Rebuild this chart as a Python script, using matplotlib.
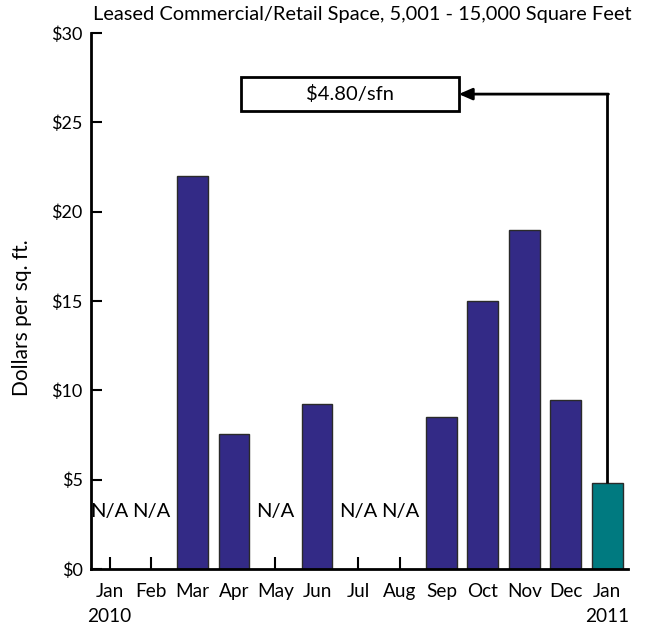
import matplotlib
matplotlib.use("Agg")
import matplotlib.pyplot as plt
from matplotlib.patches import Rectangle

plt.rcParams['font.family'] = ['Lato', 'DejaVu Sans']

months = ["Jan\n2010", "Feb", "Mar", "Apr", "May", "Jun", "Jul", "Aug",
          "Sep", "Oct", "Nov", "Dec", "Jan\n2011"]
values = [None, None, 22.0, 7.55, None, 9.23, None, None, 8.5, 15.0, 19.0, 9.47, 4.8]
colors = ["#332A86"] * 12 + ["#007A80"]
yticks = [0, 5, 10, 15, 20, 25, 30]
ytick_labels = ["$0", "$5", "$10", "$15", "$20", "$25", "$30"]
title = "Leased Commercial/Retail Space, 5,001 - 15,000 Square Feet"
ylabel = "Dollars per sq. ft."
annot_text = "$4.80/sfn"

fig = plt.figure(figsize=(6.5, 6.31), dpi=100)
ax = fig.add_axes([0.14, 0.0983, 0.826, 0.8494])

x = list(range(len(months)))
for i, v in enumerate(values):
    if v is None:
        ax.text(i, 3.2, "N/A", ha="center", va="center", fontsize=14.5)
    else:
        ax.bar(i, v, width=0.74, color=colors[i], edgecolor="#2a2a2a",
               linewidth=1.0, zorder=2)

ax.set_xlim(-0.45, 12.5)
ax.set_ylim(0, 30)
ax.set_yticks(yticks)
ax.set_yticklabels(ytick_labels, fontsize=13)
ax.set_xticks(x)
ax.set_xticklabels(months, fontsize=13.7, linespacing=1.6)
ax.tick_params(axis="y", direction="in", length=8, width=1.5, pad=6)
ax.tick_params(axis="x", direction="in", length=9, width=1.5, pad=10)
for s in ["top", "right"]:
    ax.spines[s].set_visible(False)
for s in ["left", "bottom"]:
    ax.spines[s].set_linewidth(2)

fig.text(0.034, 1 - 318 / 631, ylabel, rotation=90, ha="center", va="center",
         fontsize=15)

# annotation box + arrow
box_x0, box_x1, box_y0, box_y1 = 3.16, 8.42, 25.63, 27.53
ymid = (box_y0 + box_y1) / 2
ax.add_patch(Rectangle((box_x0, box_y0), box_x1 - box_x0, box_y1 - box_y0,
                       facecolor="white", edgecolor="black", linewidth=2, zorder=3))
ax.text((box_x0 + box_x1) / 2, ymid, annot_text, ha="center", va="center",
        fontsize=14.5, zorder=4)
last = len(values) - 1
ax.plot([last, last], [values[last], ymid], color="black", linewidth=2, zorder=3,
        solid_capstyle="butt")
ax.annotate("", xy=(box_x1, ymid), xytext=(last + 0.03, ymid),
            arrowprops=dict(arrowstyle="-|>,head_length=0.8,head_width=0.35",
                            color="black", linewidth=2, shrinkA=0, shrinkB=0),
            zorder=3)

fig.text(0.558, 0.977, title, ha="center", va="center", fontsize=14.4)

fig.savefig("out.png", dpi=100)
